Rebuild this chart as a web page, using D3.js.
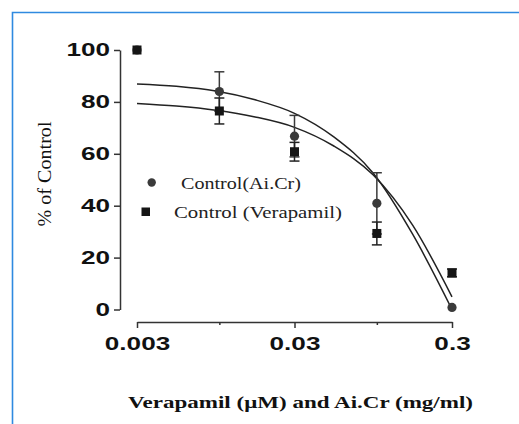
<!DOCTYPE html>
<html>
<head>
<meta charset="utf-8">
<script src="https://cdn.jsdelivr.net/npm/d3@7"></script>
<style>
  html, body { margin: 0; padding: 0; background: #fff; }
  svg { display: block; }
</style>
</head>
<body>
<svg id="chart" width="519" height="424"></svg>
<script>
// ---- data ----
const doses = [0.003, 0.01, 0.03, 0.1, 0.3];
const aiMean = [100, 84, 66.8, 40.9, 0.8];
const aiErr  = [0, 7.6, 8, 11.8, 0];
const verMean = [100, 76.5, 60.8, 29.3, 14.1];
const verErr  = [0, 5, 3.6, 4.4, 1.5];

// fitted curves (x positions, % values)
const curveX = [0.003, 0.00533, 0.00949, 0.01687, 0.03, 0.0533, 0.0949, 0.1687, 0.3];
const aiCurveY  = [86.9, 86.0, 84.2, 80.8, 75.6, 66.5, 52.5, 29.0, 0.0];
const verCurveY = [79.4, 78.4, 76.8, 74.2, 70.2, 63.0, 51.8, 32.5, 4.9];

const xTickValues = [0.003, 0.01, 0.03, 0.1, 0.3];
const xTickLabels = ["0.003", "", "0.03", "", "0.3"];
const yTickValues = [0, 20, 40, 60, 80, 100];

const seriesNames = ["Control(Ai.Cr)", "Control (Verapamil)"];
const xTitle = "Verapamil (\u03bcM) and Ai.Cr (mg/ml)";
const yTitle = "% of Control";

const SERIF = "'Liberation Serif'";
const SANS = "'Liberation Sans'";

// ---- drawing ----
const svg = d3.select("#chart");
const STRETCH = 1.45;

// blue frame
svg.append("path")
  .attr("d", "M12.5,424 L12.5,12.5 L519,12.5")
  .attr("fill", "none")
  .attr("stroke", "#2f8ae0")
  .attr("stroke-width", 1.6);

const x = d3.scaleLog().domain([0.003, 0.3]).range([137, 452]);
const y = d3.scaleLinear().domain([0, 100]).range([309.5, 50]);

function stretchText(sel) {
  sel.each(function() {
    const len = this.getComputedTextLength();
    if (len > 0) d3.select(this).attr("textLength", len * STRETCH).attr("lengthAdjust", "spacingAndGlyphs");
  });
}

// y axis
const yAxis = svg.append("g")
  .attr("transform", "translate(120,0)")
  .call(d3.axisLeft(y).tickValues(yTickValues).tickSize(6).tickSizeOuter(0).tickPadding(4));
yAxis.attr("font-family", SANS);
yAxis.select(".domain").attr("stroke", "#333").attr("stroke-width", 1.5);
yAxis.selectAll(".tick line").attr("stroke", "#333").attr("stroke-width", 1.5);
yAxis.selectAll(".tick text")
  .style("font-family", SANS)
  .attr("font-weight", "bold")
  .attr("font-size", 18)
  .attr("fill", "#111")
  .call(stretchText);

// x axis
const xAxis = svg.append("g")
  .attr("transform", "translate(0,322)")
  .call(d3.axisBottom(x).tickValues(xTickValues).tickSize(5).tickSizeOuter(0).tickPadding(10)
    .tickFormat((d, i) => xTickLabels[i]));
xAxis.attr("font-family", SANS);
xAxis.select(".domain").attr("stroke", "#333").attr("stroke-width", 1.5);
xAxis.selectAll(".tick line").attr("stroke", "#333").attr("stroke-width", 1.5)
  .attr("y2", (d, i) => xTickLabels[i] === "" ? 3 : 6);
xAxis.selectAll(".tick text")
  .style("font-family", SANS)
  .attr("font-weight", "bold")
  .attr("font-size", 18)
  .attr("fill", "#111")
  .call(stretchText);

// curves
const line = d3.line().x(d => x(d[0])).y(d => y(d[1])).curve(d3.curveMonotoneX);
svg.append("path")
  .datum(curveX.map((v, i) => [v, aiCurveY[i]]))
  .attr("d", line).attr("fill", "none").attr("stroke", "#222").attr("stroke-width", 1.5);
svg.append("path")
  .datum(curveX.map((v, i) => [v, verCurveY[i]]))
  .attr("d", line).attr("fill", "none").attr("stroke", "#222").attr("stroke-width", 1.5);

// error bars
function errorBars(means, errs, color) {
  const g = svg.append("g").attr("stroke", color).attr("stroke-width", 1.5);
  doses.forEach((d, i) => {
    if (errs[i] <= 0) return;
    const cx = x(d), y1 = y(means[i] + errs[i]), y2 = y(means[i] - errs[i]);
    g.append("line").attr("x1", cx).attr("x2", cx).attr("y1", y1).attr("y2", y2);
    g.append("line").attr("x1", cx - 5).attr("x2", cx + 5).attr("y1", y1).attr("y2", y1);
    g.append("line").attr("x1", cx - 5).attr("x2", cx + 5).attr("y1", y2).attr("y2", y2);
  });
}
errorBars(aiMean, aiErr, "#3a3a3a");
errorBars(verMean, verErr, "#222");

// markers
svg.append("g").selectAll("circle")
  .data(doses.map((d, i) => [d, aiMean[i]]))
  .join("circle")
  .attr("cx", d => x(d[0])).attr("cy", d => y(d[1])).attr("r", 4.6)
  .attr("fill", "#3a3a3a");
svg.append("g").selectAll("rect")
  .data(doses.map((d, i) => [d, verMean[i]]))
  .join("rect")
  .attr("x", d => x(d[0]) - 4.5).attr("y", d => y(d[1]) - 4.5)
  .attr("width", 9).attr("height", 9)
  .attr("fill", "#151515");

// legend
const lg = svg.append("g").attr("font-size", 17).attr("fill", "#222");
lg.append("circle").attr("cx", 151.7).attr("cy", 182.5).attr("r", 4.2).attr("fill", "#3a3a3a");
lg.append("text").style("font-family", SERIF).attr("x", 181).attr("y", 188.5).text(seriesNames[0])
  .attr("textLength", 120).attr("lengthAdjust", "spacingAndGlyphs");
lg.append("rect").attr("x", 141.5).attr("y", 207.5).attr("width", 8.5).attr("height", 8.5).attr("fill", "#151515");
lg.append("text").style("font-family", SERIF).attr("x", 174).attr("y", 217.5).text(seriesNames[1])
  .attr("textLength", 168).attr("lengthAdjust", "spacingAndGlyphs");

// axis titles
svg.append("text")
  .style("font-family", SERIF)
  .attr("x", 128).attr("y", 408)
  .attr("font-weight", "bold").attr("font-size", 17).attr("fill", "#111")
  .attr("textLength", 345).attr("lengthAdjust", "spacingAndGlyphs")
  .text(xTitle);

svg.append("text")
  .style("font-family", SERIF)
  .attr("transform", "translate(51,174) rotate(-90)")
  .attr("text-anchor", "middle")
  .attr("font-size", 18).attr("fill", "#111")
  .attr("textLength", 105).attr("lengthAdjust", "spacingAndGlyphs")
  .text(yTitle);
</script>
</body>
</html>
